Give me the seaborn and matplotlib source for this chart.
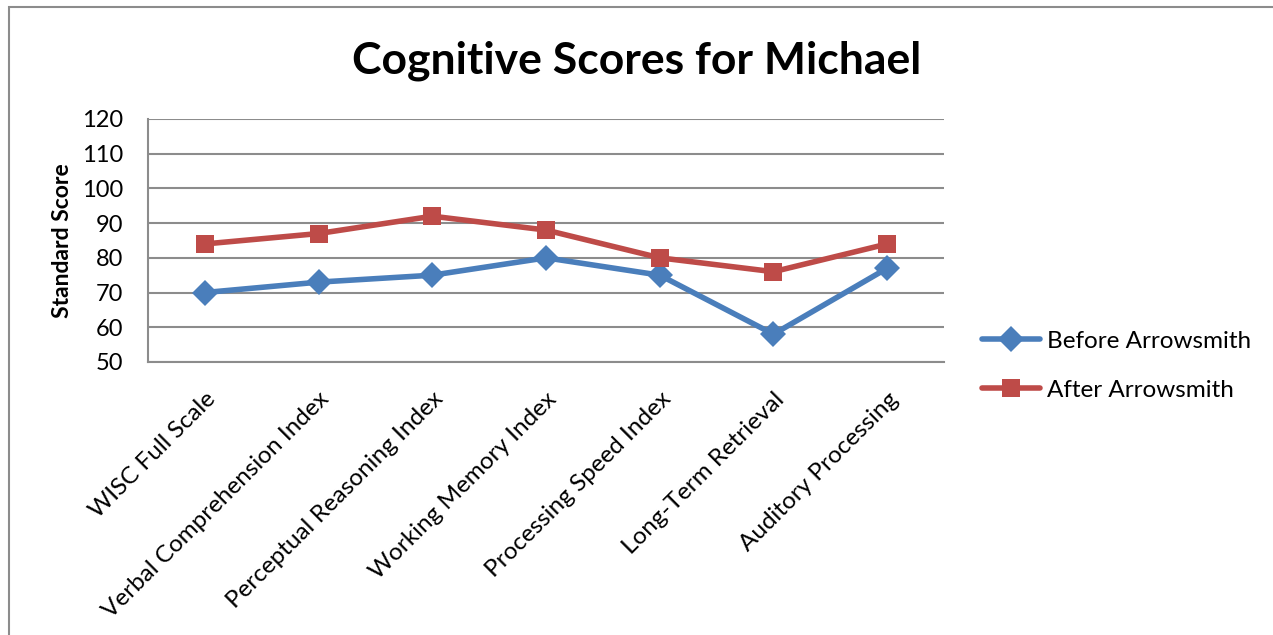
import pandas as pd
import seaborn as sns
import matplotlib.pyplot as plt
from matplotlib.patches import Rectangle

# valores
categorias = [
    "WISC Full Scale",
    "Verbal Comprehension Index",
    "Perceptual Reasoning Index",
    "Working Memory Index",
    "Processing Speed Index",
    "Long-Term Retrieval",
    "Auditory Processing",
]
antes = [70, 73, 75, 80, 75, 58, 77]
depois = [84, 87, 92, 88, 80, 76, 84]
series = ["Before Arrowsmith", "After Arrowsmith"]

df = pd.DataFrame({
    "Teste": categorias * 2,
    "Score": antes + depois,
    "Serie": [series[0]] * len(antes) + [series[1]] * len(depois),
})

sns.set_theme(style="white")
plt.rcParams["font.family"] = ["Lato", "DejaVu Sans"]
plt.rcParams["text.color"] = "black"
plt.rcParams["xtick.color"] = "black"
plt.rcParams["ytick.color"] = "black"
plt.rcParams["axes.labelcolor"] = "black"

fig = plt.figure(figsize=(12.73, 6.35), dpi=100)
ax = fig.add_axes([0.1163, 0.430, 0.6253, 0.3826])

cores = {series[0]: "#4A7EBB", series[1]: "#BE4B48"}
sns.lineplot(
    data=df, x="Teste", y="Score", hue="Serie", style="Serie",
    hue_order=series, style_order=series, palette=cores,
    markers={series[0]: "D", series[1]: "s"}, dashes=False,
    sort=False, linewidth=4, markersize=13, markeredgewidth=0,
    ax=ax,
)

ax.set_xlim(-0.5, len(categorias) - 0.5)
ax.set_ylim(50, 120)
ax.set_yticks(range(50, 121, 10))
ax.grid(axis="y", color="#8C8C8C", linewidth=1.5)
ax.set_axisbelow(True)
for lado in ["top", "right"]:
    ax.spines[lado].set_visible(False)
for lado in ["left", "bottom"]:
    ax.spines[lado].set_color("#8C8C8C")
    ax.spines[lado].set_linewidth(1.5)

ax.tick_params(axis="y", length=0, pad=18, labelsize=17)
ax.tick_params(axis="x", length=0, pad=19, labelsize=17.5)
plt.setp(ax.get_xticklabels(), rotation=45, ha="right", rotation_mode="anchor")

ax.set_xlabel("")
ax.set_ylabel("Standard Score", fontsize=16.5, fontweight="bold", labelpad=6)

fig.suptitle("Cognitive Scores for Michael", x=0.5, y=0.905, fontsize=32,
             fontweight="bold", va="center")

handles, labels = ax.get_legend_handles_labels()
ax.legend(handles, labels, loc="center left", bbox_to_anchor=(0.754, 0.424),
          bbox_transform=fig.transFigure, frameon=False, fontsize=17.5,
          handlelength=2.4, labelspacing=1.15, handletextpad=0.3)

# moldura do gráfico (estilo Excel)
fig.patches.append(Rectangle((9 / 1273, -0.5), 2, 0.5 + (1 - 7 / 635),
                             transform=fig.transFigure, fill=False,
                             edgecolor="#8C8C8C", linewidth=1.5))

fig.savefig("out.png", dpi=100)
